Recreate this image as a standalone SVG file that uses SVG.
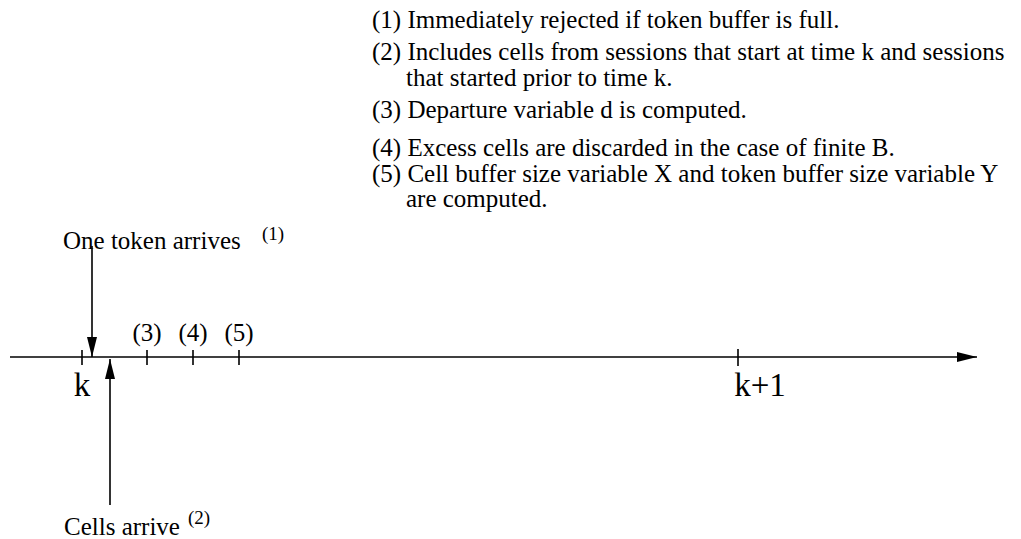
<svg xmlns="http://www.w3.org/2000/svg" width="1021" height="539" viewBox="0 0 1021 539">
<style>
text{font-family:"Liberation Serif","Times New Roman",serif;fill:#000}
.t{font-size:25px}
.s{font-size:19px}
.b{font-size:33px}
.ln{stroke:#000;stroke-width:1.6;fill:none}
</style>
<defs>
<marker id="ah" viewBox="0 0 20 10" refX="20" refY="5" markerWidth="20" markerHeight="10" markerUnits="userSpaceOnUse" orient="auto">
<path d="M0,0 L20,5 L0,10 z" fill="#000"/>
</marker>
</defs>
<rect width="1021" height="539" fill="#fff"/>
<g id="notes">
<text class="t" x="372" y="28">(1) Immediately rejected if token buffer is full.</text>
<text class="t" x="372" y="60">(2) Includes cells from sessions that start at time k and sessions</text>
<text class="t" x="406" y="86">that started prior to time k.</text>
<text class="t" x="372" y="118">(3) Departure variable d is computed.</text>
<text class="t" x="372" y="156">(4) Excess cells are discarded in the case of finite B.</text>
<text class="t" x="372" y="182">(5) Cell buffer size variable X and token buffer size variable Y</text>
<text class="t" x="406" y="207">are computed.</text>
</g>
<g id="connectors">
<line class="ln" x1="10" y1="357" x2="977" y2="357" marker-end="url(#ah)"/>
<line class="ln" x1="92" y1="246" x2="92" y2="357" marker-end="url(#ah)"/>
<line class="ln" x1="110" y1="505" x2="110" y2="359" marker-end="url(#ah)"/>
</g>
<g id="ticks">
<line class="ln" x1="82" y1="350" x2="82" y2="365"/>
<line class="ln" x1="147" y1="350" x2="147" y2="365"/>
<line class="ln" x1="193" y1="350" x2="193" y2="365"/>
<line class="ln" x1="239" y1="350" x2="239" y2="365"/>
<line class="ln" x1="738" y1="349" x2="738" y2="366"/>
</g>
<g id="token">
<text class="t" x="63" y="249">One token arrives</text>
<text class="s" x="262" y="240">(1)</text>
</g>
<g id="cells">
<text class="t" x="64" y="535">Cells arrive</text>
<text class="s" x="188" y="524">(2)</text>
</g>
<g id="labels">
<text class="t" x="147" y="341" text-anchor="middle">(3)</text>
<text class="t" x="193" y="341" text-anchor="middle">(4)</text>
<text class="t" x="239" y="341" text-anchor="middle">(5)</text>
<text class="b" x="82" y="396" text-anchor="middle">k</text>
<text class="b" x="760" y="396" text-anchor="middle">k+1</text>
</g>
</svg>
